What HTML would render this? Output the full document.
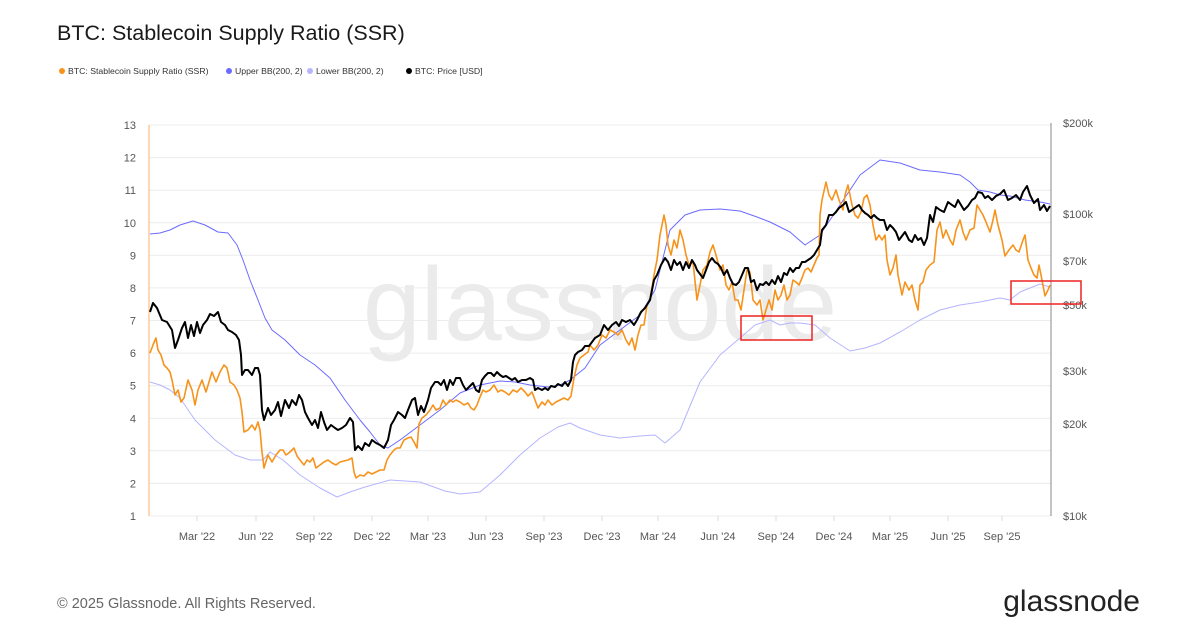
<!DOCTYPE html>
<html><head><meta charset="utf-8"><style>
body{margin:0;background:#fff;font-family:"Liberation Sans",sans-serif;}
</style></head><body>
<svg width="1200" height="630" viewBox="0 0 1200 630" xmlns="http://www.w3.org/2000/svg" font-family="Liberation Sans, sans-serif">
<rect width="1200" height="630" fill="#fff"/>
<text x="57" y="40" font-size="21.5" fill="#1a1a1a">BTC: Stablecoin Supply Ratio (SSR)</text>
<g font-size="8.7" fill="#333">
<circle cx="62" cy="71" r="3" fill="#f7931a"/><text x="68" y="74">BTC: Stablecoin Supply Ratio (SSR)</text>
<circle cx="229" cy="71" r="3" fill="#6b6bff"/><text x="235" y="74">Upper BB(200, 2)</text>
<circle cx="310" cy="71" r="3" fill="#b5b5ff"/><text x="316" y="74">Lower BB(200, 2)</text>
<circle cx="409" cy="71" r="3" fill="#000"/><text x="415" y="74">BTC: Price [USD]</text>
</g>
<g stroke="#ececec" stroke-width="1">
<line x1="149" x2="1051" y1="125" y2="125"/><line x1="149" x2="1051" y1="157.6" y2="157.6"/><line x1="149" x2="1051" y1="190.2" y2="190.2"/><line x1="149" x2="1051" y1="222.8" y2="222.8"/><line x1="149" x2="1051" y1="255.3" y2="255.3"/><line x1="149" x2="1051" y1="287.9" y2="287.9"/><line x1="149" x2="1051" y1="320.5" y2="320.5"/><line x1="149" x2="1051" y1="353.1" y2="353.1"/><line x1="149" x2="1051" y1="385.7" y2="385.7"/><line x1="149" x2="1051" y1="418.3" y2="418.3"/><line x1="149" x2="1051" y1="450.8" y2="450.8"/><line x1="149" x2="1051" y1="483.4" y2="483.4"/><line x1="149" x2="1051" y1="516" y2="516"/>
</g>
<text x="600" y="340" font-size="104" fill="#ebebeb" text-anchor="middle">glassnode</text>
<line x1="149" y1="125" x2="149" y2="516" stroke="#f7b36a" stroke-width="1"/>
<line x1="1051" y1="123" x2="1051" y2="516" stroke="#888" stroke-width="1"/>
<g font-size="11" fill="#555" text-anchor="end">
<text x="136" y="129">13</text><text x="136" y="161.6">12</text><text x="136" y="194.2">11</text><text x="136" y="226.8">10</text><text x="136" y="259.3">9</text><text x="136" y="291.9">8</text><text x="136" y="324.5">7</text><text x="136" y="357.1">6</text><text x="136" y="389.7">5</text><text x="136" y="422.3">4</text><text x="136" y="454.8">3</text><text x="136" y="487.4">2</text><text x="136" y="520">1</text>
</g>
<g font-size="11" fill="#555">
<text x="1063" y="127">$200k</text><text x="1063" y="218">$100k</text><text x="1063" y="265">$70k</text><text x="1063" y="309">$50k</text><text x="1063" y="375">$30k</text><text x="1063" y="428">$20k</text><text x="1063" y="520">$10k</text>
</g>
<g stroke="#ddd"><line x1="197" x2="197" y1="516" y2="521"/><line x1="256" x2="256" y1="516" y2="521"/><line x1="314" x2="314" y1="516" y2="521"/><line x1="372" x2="372" y1="516" y2="521"/><line x1="428" x2="428" y1="516" y2="521"/><line x1="486" x2="486" y1="516" y2="521"/><line x1="544" x2="544" y1="516" y2="521"/><line x1="602" x2="602" y1="516" y2="521"/><line x1="658" x2="658" y1="516" y2="521"/><line x1="718" x2="718" y1="516" y2="521"/><line x1="776" x2="776" y1="516" y2="521"/><line x1="834" x2="834" y1="516" y2="521"/><line x1="890" x2="890" y1="516" y2="521"/><line x1="948" x2="948" y1="516" y2="521"/><line x1="1002" x2="1002" y1="516" y2="521"/></g>
<g font-size="11" fill="#555" text-anchor="middle">
<text x="197" y="540">Mar '22</text><text x="256" y="540">Jun '22</text><text x="314" y="540">Sep '22</text><text x="372" y="540">Dec '22</text><text x="428" y="540">Mar '23</text><text x="486" y="540">Jun '23</text><text x="544" y="540">Sep '23</text><text x="602" y="540">Dec '23</text><text x="658" y="540">Mar '24</text><text x="718" y="540">Jun '24</text><text x="776" y="540">Sep '24</text><text x="834" y="540">Dec '24</text><text x="890" y="540">Mar '25</text><text x="948" y="540">Jun '25</text><text x="1002" y="540">Sep '25</text>
</g>
<g fill="none" stroke-linejoin="round">
<polyline stroke="#b5b5ff" stroke-width="1" points="150,382 160,385 170,390 180,398 195,420 215,440 235,455 250,460 263,460 270,452 283,460 300,475 320,488 337,497 350,492 365,487 390,480 420,482 445,491 460,494 480,492 500,475 520,455 540,438 558,427 570,423 580,428 600,435 620,438 640,436 655,435 665,443 680,430 700,382 720,355 740,338 755,325 770,320 780,325 790,323 800,323 815,325 830,338 850,351 865,348 880,343 900,332 920,320 940,310 960,305 980,302 1000,298 1010,300 1020,292 1040,284 1050,287"/>
<polyline stroke="#6b6bff" stroke-width="1" points="150,234 160,233 170,230 180,225 193,221 205,225 218,232 228,233 237,245 243,260 250,280 258,300 265,318 272,330 285,340 300,355 315,365 330,378 345,400 360,420 370,432 380,445 388,448 400,440 420,425 440,410 460,393 480,385 500,381 515,382 530,385 548,387 560,385 570,380 585,368 600,345 620,330 640,315 655,290 670,230 685,215 700,210 720,209 740,211 757,217 770,222 790,232 805,245 820,235 840,205 860,175 880,160 900,163 920,170 940,172 960,175 970,182 978,190 990,192 1000,195 1010,196 1025,200 1040,202 1050,204"/>
<polyline stroke="#f7931a" stroke-width="1.6" points="150,353 153,345 156,338 158,350 161,355 164,365 167,368 170,372 172,380 175,395 178,390 181,402 184,398 188,380 192,390 195,405 198,390 202,380 206,392 209,382 212,372 216,382 220,372 224,365 227,368 230,382 234,385 237,390 240,398 242,412 244,432 248,430 252,425 255,430 258,422 260,430 262,452 264,468 268,455 272,462 276,455 280,450 283,450 286,455 290,452 294,448 297,456 300,460 304,465 307,460 310,462 313,458 316,468 320,465 324,462 328,460 332,463 336,465 340,462 344,461 348,460 352,458 354,472 356,478 360,475 364,476 368,472 372,474 376,472 380,470 384,470 387,460 390,455 394,450 397,448 400,448 404,440 408,438 411,437 414,442 417,448 419,424 422,418 426,415 430,410 433,405 436,410 440,408 443,400 446,405 450,400 453,402 456,400 460,402 464,405 468,403 471,408 474,410 477,405 480,397 483,390 486,392 490,390 494,385 498,392 501,390 505,392 509,395 513,390 517,392 521,388 525,392 528,396 532,392 535,400 538,408 542,402 545,405 548,400 552,405 556,402 560,400 564,398 568,400 571,396 574,378 577,365 580,358 584,355 588,352 590,345 594,350 598,345 602,335 606,338 610,330 614,332 618,335 622,330 626,340 629,345 632,338 635,350 638,335 641,325 644,325 647,305 650,300 654,275 657,260 660,235 664,215 666,225 668,245 671,255 674,240 677,248 680,230 683,240 686,255 689,265 693,262 697,300 700,285 703,270 707,265 710,252 713,245 716,255 720,270 723,265 726,285 729,290 732,282 735,300 738,300 741,310 744,290 747,270 750,272 753,300 757,305 760,300 763,320 766,310 769,300 772,310 775,290 778,300 781,295 784,285 787,300 790,295 793,280 796,282 799,285 802,278 805,270 808,268 811,272 814,265 817,258 819,255 820,215 822,200 826,182 829,195 832,200 836,190 839,200 843,210 845,195 848,185 852,205 855,215 858,218 861,212 864,198 867,195 870,205 873,225 876,240 879,235 882,240 885,235 887,260 890,275 893,268 896,255 898,275 902,295 905,282 909,290 912,285 915,300 918,310 920,285 923,282 926,270 930,265 934,262 937,230 940,222 943,238 946,230 950,240 953,245 956,230 960,220 963,232 966,240 970,230 974,228 977,205 980,210 983,215 986,222 990,232 993,220 995,210 998,225 1002,240 1005,256 1009,250 1013,245 1016,250 1019,252 1023,240 1025,235 1028,260 1031,268 1034,275 1037,278 1039,265 1042,280 1045,296 1048,290 1050,285"/>
<polyline stroke="#000" stroke-width="2" points="150,312 153,303 157,308 162,320 167,322 172,330 175,348 178,340 182,328 185,322 188,338 191,325 194,336 197,322 200,333 203,325 207,320 210,314 214,316 218,312 221,322 225,325 228,330 232,332 236,335 239,340 241,355 242,375 245,370 248,370 252,375 255,368 258,368 260,375 262,410 264,420 268,408 271,415 275,410 278,402 281,416 285,400 289,408 292,400 296,405 299,395 302,400 305,412 308,418 312,425 315,420 318,428 321,412 324,422 327,430 331,425 335,428 338,430 342,428 346,425 350,418 353,422 355,450 358,446 362,450 365,443 369,446 372,440 376,443 380,445 384,448 388,440 391,425 394,420 398,412 402,415 405,418 408,410 412,400 415,398 418,415 421,406 424,412 428,400 431,388 435,382 438,382 441,385 444,380 447,390 450,380 453,385 456,378 460,378 463,385 466,390 470,386 473,383 476,390 479,392 482,380 485,376 488,373 491,373 494,376 497,372 500,375 503,377 506,376 509,378 512,380 515,378 518,382 522,380 526,380 530,378 533,380 535,390 538,388 542,390 545,388 548,390 551,386 555,387 558,384 562,386 565,382 568,386 571,380 573,362 575,355 578,352 582,350 585,346 589,346 592,342 595,338 600,335 604,325 608,330 612,325 616,322 619,326 622,320 626,322 630,320 634,325 637,320 641,312 645,308 650,300 654,280 657,275 661,265 665,258 668,262 671,270 674,260 677,265 680,262 683,270 686,262 689,268 692,260 695,265 697,270 700,274 703,278 706,270 709,262 712,258 715,262 718,264 721,268 724,275 727,270 730,278 733,284 736,285 739,282 742,275 745,268 748,268 751,282 754,280 757,290 760,284 763,285 766,282 769,285 772,280 775,284 778,276 781,282 784,273 787,275 790,268 793,272 796,268 799,268 802,262 805,262 808,260 811,258 814,255 817,250 820,245 822,230 826,225 829,215 833,215 836,212 839,208 843,205 846,202 849,212 852,210 856,207 859,205 862,210 865,213 868,215 871,218 874,215 877,218 880,220 884,220 887,230 890,225 893,228 896,232 899,240 902,236 905,232 909,240 912,242 915,235 918,240 921,238 924,245 927,238 930,215 933,222 936,207 940,210 944,212 948,202 952,205 955,207 958,200 961,205 964,210 968,206 972,200 975,198 978,192 982,193 985,198 988,196 992,200 996,196 1000,194 1004,190 1008,200 1012,198 1016,195 1020,200 1023,192 1027,186 1030,195 1034,203 1038,199 1040,210 1044,205 1047,211 1050,206"/>
</g>
<rect x="741" y="316" width="71" height="24" fill="none" stroke="#ee2222" stroke-width="1.5"/>
<rect x="1011" y="281" width="70" height="23" fill="none" stroke="#ee2222" stroke-width="1.5"/>
<text x="57" y="608" font-size="14.5" fill="#666">© 2025 Glassnode. All Rights Reserved.</text>
<text x="1140" y="611" font-size="30" fill="#222" text-anchor="end">glassnode</text>
</svg>
</body></html>
